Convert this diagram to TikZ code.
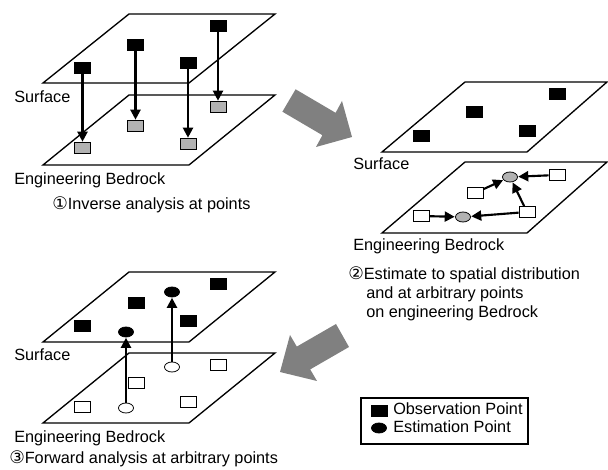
\documentclass[tikz,border=0pt]{standalone}
\usepackage{fontspec}
\setmainfont{Liberation Sans}
\newfontfamily\circfont{DejaVu Sans}
\usetikzlibrary{arrows.meta,shapes.geometric}

\newcommand{\circnum}[1]{{\circfont\fontsize{13}{14}\selectfont #1}}

\tikzset{
  plane/.style={draw=black, line width=1pt, line join=miter},
  lbl/.style={anchor=base west, inner sep=0pt, font=\fontsize{12.2}{14}\selectfont},
  obs/.style={draw=black, fill=black, line width=0.6pt, minimum width=12pt, minimum height=8.25pt, inner sep=0pt},
  grayobs/.style={obs, fill=black!30},
  whiteobs/.style={obs, fill=white},
  est/.style={ellipse, draw=black, fill=black, line width=0.6pt, minimum width=11.25pt, minimum height=7.5pt, inner sep=0pt},
  grayest/.style={est, fill=black!30},
  whiteest/.style={est, fill=white},
  link/.style={line width=1.6pt, -{Triangle[length=7.5pt,width=7.5pt]}, shorten >=0.3pt},
  bigarrow/.style={fill=black!50, draw=none}
}

\begin{document}
\begin{tikzpicture}[x=0.75pt, y=-0.75pt]
\useasboundingbox (0,0) rectangle (608,470);

% ---------- Step 1: inverse analysis ----------
\draw[plane] (43,83) -- (189,83) -- (275,14) -- (129,14) -- cycle;
\draw[plane] (43,165) -- (189,165) -- (275,95) -- (129,95) -- cycle;

\node[obs] (a1) at (82.5,68) {};
\node[obs] (a2) at (135.5,45) {};
\node[obs] (a3) at (188,63) {};
\node[obs] (a4) at (218,26) {};
\node[grayobs] (b1) at (82.5,148) {};
\node[grayobs] (b2) at (135.5,126) {};
\node[grayobs] (b3) at (188,144) {};
\node[grayobs] (b4) at (218,107) {};
\draw[link] (a1) -- (b1);
\draw[link] (a2) -- (b2);
\draw[link] (a3) -- (b3);
\draw[link] (a4) -- (b4);

\node[lbl] (s1) at (14,103) {Surface};
\node[lbl] (e1) at (14,185) {Engineering Bedrock};
\node[lbl] (c1) at (52,210) {\circnum{①}Inverse analysis at points};

% ---------- Step 2: spatial estimation ----------
\draw[plane] (382,152) -- (527,152) -- (607,82) -- (465,82) -- cycle;
\draw[plane] (382,233) -- (527,233) -- (607,162) -- (465,162) -- cycle;

\node[obs] (p1) at (421,136) {};
\node[obs] (p2) at (474,112) {};
\node[obs] (p3) at (527,131) {};
\node[obs] (p4) at (557,94) {};

\node[whiteobs] (q1) at (421,216) {};
\node[whiteobs] (q2) at (475,193) {};
\node[whiteobs] (q3) at (527,212) {};
\node[whiteobs] (q4) at (557,175) {};
\node[grayest] (r1) at (463,217) {};
\node[grayest] (r2) at (510,177) {};
\draw[link] (q1) -- (r1);
\draw[link] (q3) -- (r1);
\draw[link] (q2) -- (r2);
\draw[link] (q3) -- (r2);
\draw[link] (q4) -- (r2);

\node[lbl] (s2) at (353,170) {Surface};
\node[lbl] (e2) at (353,251) {Engineering Bedrock};
\node[lbl] (c2) at (348,280) {\circnum{②}Estimate to spatial distribution};
\node[lbl] (c2b) at (366,299) {and at arbitrary points};
\node[lbl] (c2c) at (366,318) {on engineering Bedrock};

% ---------- Step 3: forward analysis ----------
\draw[plane] (43,342) -- (189,342) -- (275,272) -- (129,272) -- cycle;
\draw[plane] (43,423) -- (189,423) -- (275,353) -- (129,353) -- cycle;

\node[obs] (t1) at (82,326) {};
\node[obs] (t2) at (136,303) {};
\node[obs] (t3) at (188,321) {};
\node[obs] (t4) at (218,284) {};
\node[est] (u1) at (126,332) {};
\node[est] (u2) at (172,292) {};

\node[whiteobs] (w1) at (82,407) {};
\node[whiteobs] (w2) at (136,383) {};
\node[whiteobs] (w3) at (188,402) {};
\node[whiteobs] (w4) at (218,365) {};
\node[whiteest] (v1) at (126,408) {};
\node[whiteest] (v2) at (172,367) {};
\draw[link] (v1) -- (u1);
\draw[link] (v2) -- (u2);

\node[lbl] (s3) at (14,361) {Surface};
\node[lbl] (e3) at (14,443) {Engineering Bedrock};
\node[lbl] (c3) at (9,464) {\circnum{③}Forward analysis at arbitrary points};

% ---------- Flow arrows between steps ----------
\fill[bigarrow] (295.6,89.3) -- (335.6,112.8) -- (342,101) -- (352,137)
  -- (316,147) -- (322.4,135.2) -- (282.4,111.7) -- cycle;
\fill[bigarrow] (336,324) -- (296.8,346.6) -- (290,335) -- (280,372)
  -- (317,381) -- (310.2,369.4) -- (349,347) -- cycle;

% ---------- Legend ----------
\node[draw=black, line width=0.8pt, minimum width=125.25pt, minimum height=34.5pt, inner sep=0pt] (key) at (444.5,421) {};
\node[obs] (k1) at (379,410.5) {};
\node[est] (k2) at (379,428) {};
\node[lbl] (k1t) at (393,415) {Observation Point};
\node[lbl] (k2t) at (393,433) {Estimation Point};
\end{tikzpicture}
\end{document}
